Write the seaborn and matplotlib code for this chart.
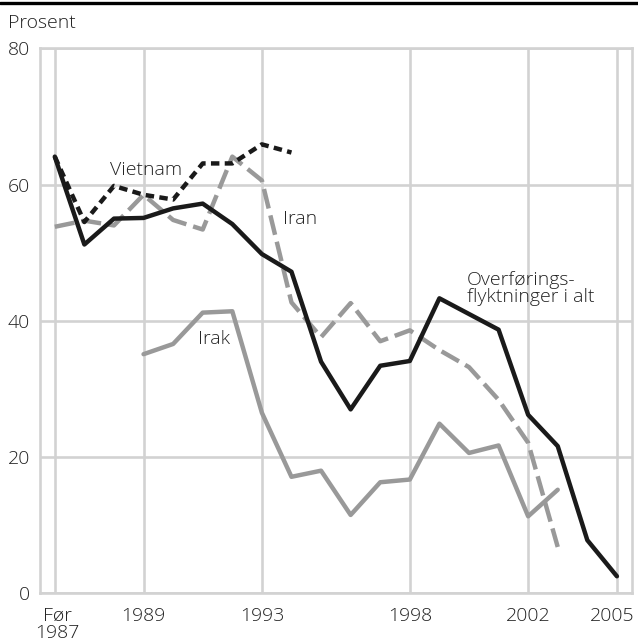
import matplotlib

matplotlib.use("Agg")
import matplotlib.pyplot as plt
import matplotlib.transforms as mtransforms
import numpy as np
import pandas as pd
import seaborn as sns
from matplotlib.lines import Line2D

categories = ["Før\n1987", "1987", "1988", "1989", "1990", "1991", "1992", "1993", "1994", "1995",
              "1996", "1997", "1998", "1999", "2000", "2001", "2002", "2003", "2004", "2005"]
labelled = ["Før\n1987", "1989", "1993", "1998", "2002", "2005"]

total = [64.1, 51.2, 55.0, 55.1, 56.5, 57.2, 54.2, 49.8, 47.2, 34.0,
         27.0, 33.4, 34.1, 43.3, 41.0, 38.7, 26.2, 21.6, 7.8, 2.5]
iran = [53.8, 54.7, 54.0, 58.5, 54.8, 53.4, 64.1, 60.6, 42.7, 37.6,
        42.6, 37.0, 38.6, 35.7, 33.2, 28.4, 22.1, 6.8, None, None]
irak = [None, None, None, 35.1, 36.6, 41.2, 41.4, 26.5, 17.1, 18.0,
        11.5, 16.3, 16.7, 24.9, 20.6, 21.7, 11.3, 15.2, None, None]
vietnam = [64.1, 54.5, 59.8, 58.5, 57.8, 63.1, 63.1, 65.9, 64.7, None,
           None, None, None, None, None, None, None, None, None, None]

BLACK = "#1a1a1a"
GRAY = "#999999"
GRID = "#d2d2d2"
TEXT = "#222222"
FS = 14

sns.set_theme(style="white")
plt.rcParams["font.family"] = ["Open Sans", "DejaVu Sans"]
plt.rcParams["font.weight"] = 300

df = pd.DataFrame({"pos": np.arange(len(categories)), "total": total, "iran": iran,
                   "irak": irak, "vietnam": vietnam}).astype(float)

fig = plt.figure(figsize=(6.38, 6.42), dpi=100)
ax = fig.add_axes([40 / 638, (642 - 593.3) / 642, (631.7 - 40) / 638, (593.3 - 48.3) / 642])

lw = 3.2
sns.lineplot(data=df, x="pos", y="irak", ax=ax, color=GRAY, lw=lw)
sns.lineplot(data=df, x="pos", y="iran", ax=ax, color=GRAY, lw=lw, dashes=False,
             linestyle=(0, (4.5, 1.6)))
sns.lineplot(data=df, x="pos", y="total", ax=ax, color=BLACK, lw=lw)
sns.lineplot(data=df, x="pos", y="vietnam", ax=ax, color=BLACK, lw=lw, dashes=False,
             linestyle=(0, (1.9, 1.2)))

ax.set_xlim(-0.5, 19.5)
ax.set_ylim(0, 80)
ax.set_xlabel("")
ax.set_ylabel("")

major = [categories.index(c) for c in labelled]
minor = [i for i in range(len(categories)) if i not in major]
ax.set_xticks(major)
ax.set_xticklabels(labelled, linespacing=0.88)
ax.set_xticks(minor, minor=True)
ax.set_yticks([0, 20, 40, 60, 80])

ax.grid(True, which="major", color=GRID, lw=1.9)
ax.set_axisbelow(True)
ax.tick_params(axis="x", which="major", length=0, pad=10, labelsize=FS, labelcolor=TEXT)
ax.tick_params(axis="x", which="minor", direction="in", length=9.4, width=1.9, color=GRID)
ax.tick_params(axis="y", length=0, pad=7, labelsize=FS, labelcolor=TEXT)
for spine in ax.spines.values():
    spine.set_color(GRID)
    spine.set_linewidth(1.9)

# nudge the first and last year labels like the original
xlabels = ax.get_xticklabels()
xlabels[0].set_transform(xlabels[0].get_transform()
                         + mtransforms.ScaledTranslation(3 / 100, 0, fig.dpi_scale_trans))
xlabels[-1].set_transform(xlabels[-1].get_transform()
                          + mtransforms.ScaledTranslation(-5 / 100, 0, fig.dpi_scale_trans))

ax.text(1.88, 62.1, "Vietnam", fontsize=FS, color=TEXT, va="center", ha="left")
ax.text(7.7, 55.0, "Iran", fontsize=FS, color=TEXT, va="center", ha="left")
ax.text(4.85, 37.3, "Irak", fontsize=FS, color=TEXT, va="center", ha="left")
ax.text(13.94, 44.75, "Overførings-\nflyktninger i alt", fontsize=FS, color=TEXT,
        va="center", ha="left", linespacing=0.95)

fig.text(8 / 638, 1 - 27.5 / 642, "Prosent", fontsize=FS, color=TEXT, va="baseline", ha="left")
fig.add_artist(Line2D([0, 1], [1 - 3.3 / 642, 1 - 3.3 / 642], transform=fig.transFigure,
                      color="black", lw=2.4))

fig.savefig("out.png", dpi=100)
